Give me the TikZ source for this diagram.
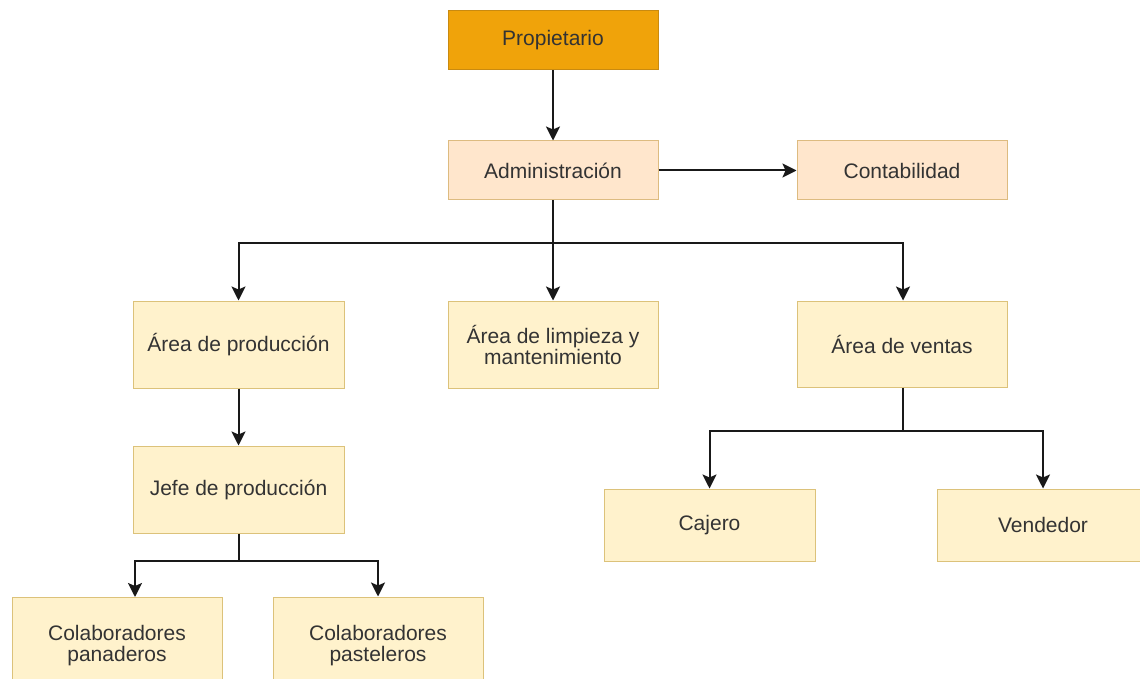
\documentclass[tikz,border=0pt]{standalone}
\usepackage{fontspec}
\setmainfont{Liberation Sans}
\usetikzlibrary{arrows.meta}
\definecolor{ownerfill}{HTML}{F0A30A}
\definecolor{ownerline}{HTML}{C98A10}
\definecolor{adminfill}{HTML}{FFE6CC}
\definecolor{adminline}{HTML}{DDBB80}
\definecolor{unitfill}{HTML}{FFF2CC}
\definecolor{unitline}{HTML}{DCC27A}
\definecolor{labeltext}{HTML}{333333}
\tikzset{
  box/.style={rectangle, draw, line width=1pt, align=center, text=labeltext,
    font=\fontsize{21}{21}\selectfont, inner sep=2pt},
  owner/.style={box, fill=ownerfill, draw=ownerline},
  admin/.style={box, fill=adminfill, draw=adminline},
  unit/.style={box, fill=unitfill, draw=unitline},
  link/.style={line width=2pt, draw=black!90},
  arrow/.style={link, -{Stealth[length=14pt,width=14pt,inset=3pt]}}
}
\begin{document}
\begin{tikzpicture}[x=1pt,y=-1pt]
\useasboundingbox (0,0) rectangle (1140,679);
\clip (0,0) rectangle (1140,679);
\fill[white] (0,0) rectangle (1140,679);

% boxes
\node[owner, minimum width=210pt, minimum height=59pt] (prop) at (553,40.5) {Propietario};
\node[admin, minimum width=210pt, minimum height=59pt] (adm) at (553,170.5) {Administración};
\node[admin, minimum width=210pt, minimum height=59pt] (cont) at (902,170.5) {Contabilidad};
\node[unit, minimum width=211pt, minimum height=87pt] (prod) at (238.5,344.5) {Área de producción};
\node[unit, minimum width=210pt, minimum height=87pt] (limp) at (553,344.5) {Área de limpieza y\\mantenimiento};
\node[unit, minimum width=210pt, minimum height=86pt] (vent) at (902,344) {Área de ventas};
\node[unit, minimum width=211pt, minimum height=87pt] (jefe) at (238.5,489.5) {Jefe de producción};
\node[unit, minimum width=211pt, minimum height=72pt] (caj) at (709.5,525) {Cajero};
\node[unit, minimum width=212pt, minimum height=72pt] (vend) at (1043,525) {Vendedor};
\node[unit, minimum width=210pt, minimum height=98pt] (pan) at (117,646) {Colaboradores\\panaderos};
\node[unit, minimum width=210pt, minimum height=98pt] (past) at (378,646) {Colaboradores\\pasteleros};

% junction points of the branching connectors
\coordinate (jadm) at (553,243);
\coordinate (jvent) at (903,431);
\coordinate (jjefe) at (238.5,561);
\coordinate (panin) at (135,597);

% connectors
\draw[arrow] (prop) -- (adm);
\draw[arrow] (adm) -- (cont);
\draw[link] (adm) -- (jadm);
\draw[arrow] (jadm) -| (prod.north);
\draw[arrow] (jadm) -- (limp);
\draw[arrow] (jadm) -| ([xshift=1pt]vent.north);
\draw[arrow] (prod) -- (jefe);
\draw[link] ([xshift=1pt]vent.south) -- (jvent);
\draw[arrow] (jvent) -| (caj.north);
\draw[arrow] (jvent) -| (vend.north);
\draw[link] (jefe) -- (jjefe);
\draw[arrow] (jjefe) -| (panin);
\draw[arrow] (jjefe) -| (past.north);
\end{tikzpicture}
\end{document}
